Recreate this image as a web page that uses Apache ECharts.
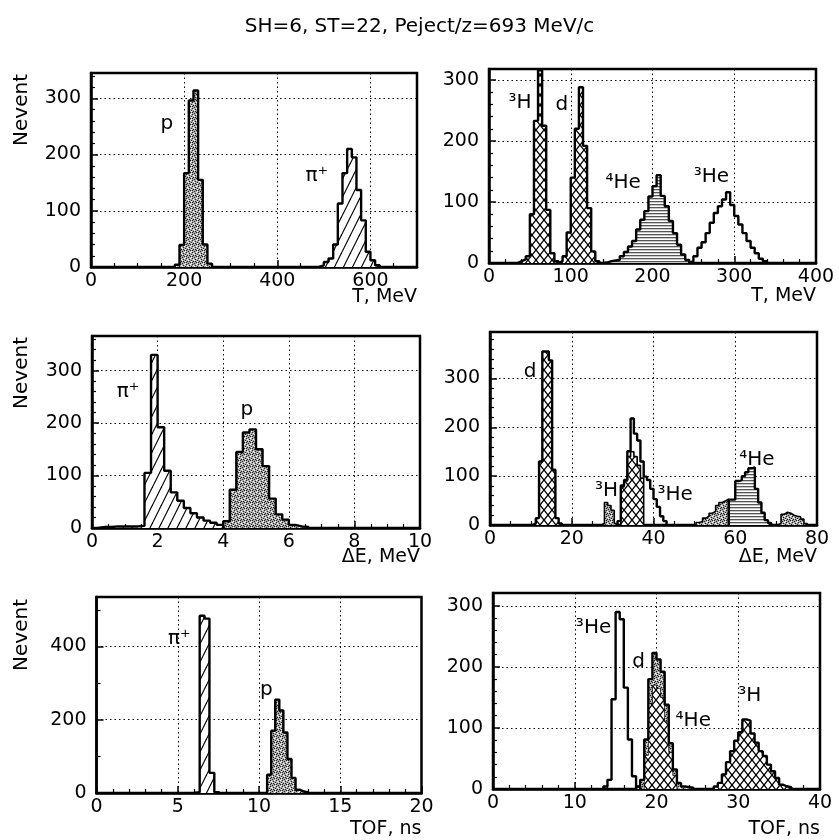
<!DOCTYPE html>
<html>
<head>
<meta charset="utf-8">
<script src="https://cdn.jsdelivr.net/npm/echarts@6/dist/echarts.min.js"></script>
<style>
html, body { margin: 0; padding: 0; background: #fff; }
#chart { width: 839px; height: 840px; }
</style>
</head>
<body>
<div id="chart"></div>
<script>
// histograms: first bin edge, bin width, counts per bin
// T, MeV (left): p, pi+
const tP = { start: 180, bin: 10, counts: [4, 39, 167, 296, 314, 155, 40, 6] }
const tPi = { start: 490, bin: 10, counts: [3, 9, 15, 40, 113, 167, 210, 195, 137, 83, 27, 12, 3] }
// T, MeV (right): 3H, d, 4He, 3He
const tH3 = { start: 35, bin: 5, counts: [3, 6, 11, 80, 233, 316, 225, 87, 16, 3] }
const tD = { start: 85, bin: 5, counts: [3, 11, 50, 140, 220, 288, 192, 90, 19, 3] }
const tHe4 = { start: 140, bin: 5, counts: [1, 3, 4, 5, 11, 18, 27, 36, 55, 71, 85, 109, 126, 144, 110, 93, 69, 49, 30, 14, 5] }
const tHe3 = { start: 245, bin: 5, counts: [3, 11, 25, 34, 49, 66, 82, 93, 104, 116, 95, 77, 63, 49, 36, 25, 16, 7, 3] }
// dE, MeV (left): pi+, p
const dePi = { start: 0.2, bin: 0.2, counts: [2, 2, 3, 3, 3, 3, 4, 105, 330, 192, 109, 68, 52, 38, 28, 20, 14, 10, 6] }
const deP = { start: 4.0, bin: 0.2, counts: [13, 73, 145, 182, 188, 150, 118, 56, 26, 16, 6, 3, 2] }
// dE, MeV (right): d, small 3H, 3H, 3He, 4He
const deD = { start: 10.4, bin: 0.8, counts: [3, 14, 130, 355, 355, 337, 113, 14, 3] }
const deSmall = { start: 27.2, bin: 0.8, counts: [3, 46, 40, 30, 3] }
const deH3 = { start: 32.0, bin: 0.8, counts: [78, 90, 140, 150, 140, 122, 96] }
const deHe3 = { start: 31.2, bin: 0.8, counts: [8, 81, 92, 151, 218, 187, 173, 130, 99, 92, 74, 53, 37, 18, 8] }
const deHe4Low = { start: 50.4, bin: 0.8, counts: [5, 7, 14, 18, 24, 28, 40, 46, 49, 53] }
const deHe4 = { start: 58.4, bin: 0.8, counts: [52, 52, 90, 92, 100, 108, 116, 118, 74, 46, 25, 10, 4] }
const deTail = { start: 70.4, bin: 0.8, counts: [3, 22, 26, 24, 20, 18, 17, 12, 3] }
// TOF, ns (left): pi+, p
const tofPi = { start: 6.05, bin: 0.3, counts: [2, 484, 476, 55, 2] }
const tofP = { start: 10.5, bin: 0.25, counts: [50, 170, 255, 225, 165, 93, 41, 9, 4, 2] }
// TOF, ns (right): 3He, d, 4He, 3H
const tofHe3 = { start: 13.5, bin: 0.5, counts: [4, 15, 147, 290, 278, 166, 81, 21, 4] }
const tofD = { start: 17.5, bin: 0.5, counts: [4, 15, 81, 180, 223, 212, 192, 138, 75, 32, 10, 4, 3, 2] }
const tofHe4 = { start: 18.5, bin: 0.5, counts: [55, 140, 170, 165, 150, 110, 60, 22] }
const tofH3 = { start: 27, bin: 0.5, counts: [4, 10, 24, 44, 62, 79, 93, 114, 112, 91, 76, 62, 54, 40, 29, 18, 7, 4, 3] }

// particle labels [text, x, y] in data units
const lab1 = [['p', 163, 254], ['π⁺', 485, 163]]
const lab2 = [['³H', 38, 262], ['d', 89, 259], ['⁴He', 164, 131], ['³He', 272, 142]]
const lab3 = [['π⁺', 1.1, 260], ['p', 4.72, 226]]
const lab4 = [['d', 9.8, 313], ['³H', 28.5, 71], ['³He', 45.3, 61], ['⁴He', 65.3, 133]]
const lab5 = [['π⁺', 5.1, 421], ['p', 10.45, 281]]
const lab6 = [['³He', 12.3, 264], ['d', 17.8, 209], ['⁴He', 24.5, 111], ['³H', 31.4, 152]]

// axes
const xMax = [700, 400, 10, 80, 20, 40]
const xStep = [200, 100, 2, 20, 5, 10]
const xMinor = [4, 5, 4, 4, 5, 5]
const xName = ['T, MeV', 'T, MeV', 'ΔE, MeV', 'ΔE, MeV', 'TOF, ns', 'TOF, ns']
const xNameDrop = [21, 24, 20, 23, 27, 31]
const yMax = [345, 318, 366, 395, 535, 321]
const yStep = [100, 100, 100, 100, 200, 100]
const yMinor = [5, 5, 5, 5, 2, 5]

const FONT = '"DejaVu Sans", sans-serif'
const W = 839

const grids = [
    { left: 91, top: 73, width: 326, height: 194 },
    { left: 489, top: 69, width: 327, height: 194 },
    { left: 92, top: 336, width: 328, height: 192 },
    { left: 490, top: 332, width: 327, height: 193 },
    { left: 96.5, top: 597, width: 325, height: 196 },
    { left: 493, top: 593, width: 327, height: 196 }
]

function makePattern(w, h, draw) {
    const c = document.createElement('canvas')
    c.width = w
    c.height = h
    const ctx = c.getContext('2d')
    draw(ctx, w, h)
    return { image: c, repeat: 'repeat' }
}

const hatch = makePattern(9, 18, (ctx, w, h) => {
    ctx.fillStyle = '#fff'
    ctx.fillRect(0, 0, w, h)
    ctx.strokeStyle = '#000'
    ctx.lineWidth = 1.2
    for (let k = -1; k <= 1; k++) {
        ctx.beginPath()
        ctx.moveTo(k * w, h)
        ctx.lineTo(k * w + w, 0)
        ctx.stroke()
    }
})

const cross = makePattern(8, 10, (ctx, w, h) => {
    ctx.fillStyle = '#fff'
    ctx.fillRect(0, 0, w, h)
    ctx.strokeStyle = '#000'
    ctx.lineWidth = 1.3
    for (let k = -1; k <= 1; k++) {
        ctx.beginPath()
        ctx.moveTo(k * w, h)
        ctx.lineTo(k * w + w, 0)
        ctx.stroke()
        ctx.beginPath()
        ctx.moveTo(k * w, 0)
        ctx.lineTo(k * w + w, h)
        ctx.stroke()
    }
})

const stipple = makePattern(6, 6, (ctx) => {
    ctx.fillStyle = '#a8a8a8'
    ctx.fillRect(0, 0, 6, 6)
    ctx.fillStyle = '#222'
    ;[[0, 0], [3, 1], [1, 3], [4, 4], [5, 2], [2, 5], [0, 4], [3, 3]].forEach(p => ctx.fillRect(p[0], p[1], 1, 1))
    ctx.fillStyle = '#fff'
    ;[[2, 2], [5, 5], [4, 0], [1, 1], [5, 3]].forEach(p => ctx.fillRect(p[0], p[1], 1, 1))
})

const hlines = makePattern(4, 3, (ctx) => {
    ctx.fillStyle = '#555'
    ctx.fillRect(0, 0, 4, 1)
    ctx.fillStyle = '#c8c8c8'
    ctx.fillRect(0, 1, 4, 1)
    ctx.fillStyle = '#fff'
    ctx.fillRect(0, 2, 4, 1)
})

function stepData(h) {
    const pts = [[h.start, 0]]
    h.counts.forEach((c, i) => pts.push([+(h.start + i * h.bin).toFixed(4), c]))
    pts.push([+(h.start + h.counts.length * h.bin).toFixed(4), 0])
    return pts
}

function hist(gi, h, fill, lineW) {
    const s = {
        type: 'line',
        xAxisIndex: gi,
        yAxisIndex: gi,
        step: 'end',
        data: stepData(h),
        showSymbol: false,
        symbol: 'none',
        silent: true,
        z: 3,
        lineStyle: { color: '#000', width: lineW === undefined ? 2.4 : lineW }
    }
    if (fill) s.areaStyle = { color: fill, opacity: 1 }
    return s
}

function labels(gi, items) {
    return {
        type: 'scatter',
        xAxisIndex: gi,
        yAxisIndex: gi,
        symbolSize: 0,
        silent: true,
        z: 10,
        itemStyle: { color: 'transparent', opacity: 1 },
        data: items.map(d => ({ value: [d[1], d[2]], name: d[0] })),
        label: {
            show: true,
            position: 'inside',
            formatter: '{b}',
            color: '#000',
            opacity: 1,
            fontSize: 20,
            fontFamily: FONT
        }
    }
}

const chart = echarts.init(document.getElementById('chart'), null, { renderer: 'canvas' })

const xAxis = grids.map((g, i) => ({
    type: 'value',
    gridIndex: i,
    min: 0,
    max: xMax[i],
    interval: xStep[i],
    axisLine: { show: true, onZero: false, lineStyle: { color: '#000', width: 2.5 } },
    axisTick: { show: true, inside: true, length: 7, lineStyle: { color: '#000', width: 1.5 } },
    minorTick: { show: true, splitNumber: xMinor[i], length: 4, lineStyle: { color: '#000', width: 1.2 } },
    splitLine: { show: true, lineStyle: { color: '#000', width: 1, type: [1.5, 3] } },
    axisLabel: {
        color: '#000', fontSize: 19, fontFamily: FONT, margin: 5,
        formatter: v => (v % xStep[i] === 0 ? String(v) : '')
    }
}))

const yAxis = grids.map((g, i) => ({
    type: 'value',
    gridIndex: i,
    min: 0,
    max: yMax[i],
    interval: yStep[i],
    axisLine: { show: true, onZero: false, lineStyle: { color: '#000', width: 2.5 } },
    axisTick: { show: true, inside: true, length: 7, lineStyle: { color: '#000', width: 1.5 } },
    minorTick: { show: true, splitNumber: yMinor[i], length: 4, lineStyle: { color: '#000', width: 1.2 } },
    splitLine: { show: true, lineStyle: { color: '#000', width: 1, type: [1.5, 3] } },
    axisLabel: {
        color: '#000', fontSize: 19, fontFamily: FONT, margin: 10,
        formatter: v => (v % yStep[i] === 0 ? String(v) : '')
    }
}))

const series = [
    hist(0, tP, stipple),
    hist(0, tPi, hatch),
    labels(0, lab1),

    hist(1, tH3, cross),
    hist(1, tD, cross),
    hist(1, tHe4, hlines),
    hist(1, tHe3, null),
    labels(1, lab2),

    hist(2, dePi, hatch),
    hist(2, deP, stipple),
    labels(2, lab3),

    hist(3, deD, cross),
    hist(3, deSmall, stipple, 1.6),
    hist(3, deH3, cross, 1.6),
    hist(3, deHe3, null),
    hist(3, deHe4Low, stipple, 1.6),
    hist(3, deHe4, hlines),
    hist(3, deTail, stipple, 1.6),
    labels(3, lab4),

    hist(4, tofPi, hatch),
    hist(4, tofP, stipple),
    labels(4, lab5),

    hist(5, tofHe3, null),
    hist(5, tofD, stipple),
    hist(5, tofHe4, cross, 0.8),
    hist(5, tofH3, cross),
    labels(5, lab6)
]

const nevent = [112, 375, 637].map(y => ({
    type: 'text',
    left: 12,
    top: y - 38,
    rotation: Math.PI / 2,
    style: { text: 'Nevent', fill: '#000', font: '20px ' + FONT }
}))

const axisNames = grids.map((g, i) => ({
    type: 'text',
    right: W - (g.left + g.width),
    top: g.top + g.height + xNameDrop[i],
    style: { text: xName[i], fill: '#000', font: '19px ' + FONT }
}))

chart.setOption({
    animation: false,
    backgroundColor: '#fff',
    title: {
        text: 'SH=6, ST=22, Peject/z=693 MeV/c',
        left: 'center',
        top: 12,
        textStyle: { color: '#000', fontSize: 20, fontWeight: 'normal', fontFamily: FONT }
    },
    grid: grids.map(g => Object.assign({
        show: true,
        borderColor: '#000',
        borderWidth: 2.5,
        backgroundColor: 'transparent',
        containLabel: false,
        outerBoundsMode: 'none'
    }, g)),
    xAxis: xAxis,
    yAxis: yAxis,
    series: series,
    graphic: nevent.concat(axisNames)
})
</script>
</body>
</html>
